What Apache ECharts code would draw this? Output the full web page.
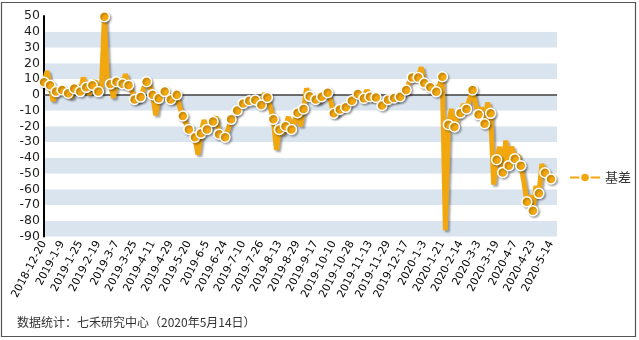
<!DOCTYPE html>
<html><head><meta charset="utf-8">
<script src="https://cdn.jsdelivr.net/npm/echarts@6/dist/echarts.min.js"></script>
<style>html,body{margin:0;padding:0;background:#fff}#c{width:639px;height:340px}</style>
</head><body><div id="c"></div>
<script>
const tickLabels = ['2018-12-20','2019-1-9','2019-1-25','2019-2-19','2019-3-7','2019-3-25','2019-4-11','2019-4-29','2019-5-20','2019-6-5','2019-6-24','2019-7-10','2019-7-26','2019-8-13','2019-8-29','2019-9-17','2019-10-10','2019-10-28','2019-11-13','2019-11-29','2019-12-17','2020-1-3','2020-1-21','2020-2-14','2020-3-3','2020-3-19','2020-4-7','2020-4-23','2020-5-14'];
const seriesName = '基差';
const basis = [
 8,15,6,-4,2,4,3,0,1,-2,4,5,2,11,4.7,0,6,9,2,3,
 49.5,8,6.8,-2,8.3,10,7,13,6,3,-3,-4,-1.5,4,8.3,6,0,-13,-2.3,0,
 2,1,-3,-4,0,-8,-13.5,-18,-22,-25,-27,-38,-24.5,-16,-22,-20,-17,-14,-25,-27,
 -27,-22,-15.6,-13,-10,-7,-5.5,-3,-3.8,-2,-3.4,-4,-6.5,1,-1.7,-8,-15.6,-35,-22,-25,
 -20,-14,-22,-17,-11.4,-20,-9,4,-1,-2,-3,-5,-1.3,2,1.3,-4,-11.8,-13,-9.3,-7,
 -8,-6,-3.8,-1,0.5,-1,-2.3,3,-1.3,-3,-1.7,-4,-6.8,-5,-3.2,-1,-2,-3,-1.3,0,
 3,8,11,13,11,17.5,7.4,5,4.8,3,1.9,6,11.4,-86,-19,-9,-20.5,-15,-11.6,-6,
 -9,-3,3,-6,-12.6,-8,-18.4,-5,-11.8,-57,-41.2,-33,-49.3,-29,-45,-33,-40.7,-38,-45,-55,
 -68,-64,-73.6,-58,-62.6,-44,-49.5,-50,-53.5
];
const trailingBlank = 2;
const categories = basis.map((_, i) => 'p' + i);
for (let k = 0; k < trailingBlank; k++) categories.push('b' + k);

const chart = echarts.init(document.getElementById('c'), null, {renderer: 'canvas'});
const lineColor = '#F2A70F';
chart.setOption({
  animation: false,
  backgroundColor: '#fff',
  grid: {left: 44, right: 82, top: 16, bottom: 103.5, containLabel: false},
  legend: {
    data: [seriesName], left: 569, top: 171, padding: 0,
    itemWidth: 30, itemHeight: 12, itemGap: 8,
    textStyle: {fontSize: 13, color: '#333', fontFamily: 'Noto Sans CJK SC'}
  },
  xAxis: {
    type: 'category', data: categories, boundaryGap: false,
    axisLine: {show: false}, axisTick: {show: false}, splitLine: {show: false},
    axisLabel: {
      interval: 5, rotate: 62, margin: 5, fontSize: 10.8, color: '#000',
      fontFamily: 'DejaVu Sans',
      formatter: (v, idx) => (idx % 6 === 0 && tickLabels[idx / 6]) ? tickLabels[idx / 6] : ''
    }
  },
  yAxis: {
    type: 'value', min: -90, max: 50, interval: 10,
    axisLine: {show: true, lineStyle: {color: '#000', width: 2}},
    axisTick: {show: false},
    splitLine: {show: false},
    splitArea: {show: true, areaStyle: {color: ['#DAE4EF', '#FFFFFF']}},
    axisLabel: {fontSize: 12.5, color: '#222', margin: 4, fontFamily: 'DejaVu Sans'}
  },
  graphic: [
    {type: 'rect', shape: {x: 1.5, y: 2.5, width: 634, height: 334},
     style: {fill: 'none', stroke: '#555', lineWidth: 1.2}, silent: true, z: 100},
    {type: 'text', left: 17, top: 316,
     style: {text: '数据统计：七禾研究中心（2020年5月14日）', fontSize: 12, fill: '#333',
             fontFamily: 'Noto Sans CJK SC'}}
  ],
  series: [{
    name: seriesName, type: 'line', data: basis,
    showSymbol: true, showAllSymbol: true, symbol: 'circle',
    symbolSize: (val, p) => (p.dataIndex % 2 === 0 ? 10 : 0),
    lineStyle: {color: lineColor, width: 5, shadowColor: 'rgba(0,0,0,0.35)', shadowBlur: 2, shadowOffsetX: 2, shadowOffsetY: 2},
    itemStyle: {color: lineColor, borderColor: '#fff', borderWidth: 1.5, shadowColor: 'rgba(0,0,0,0.3)', shadowBlur: 2, shadowOffsetX: 1.5, shadowOffsetY: 1.5},
    emphasis: {disabled: true},
    markLine: {
      silent: true, symbol: 'none', label: {show: false},
      lineStyle: {color: '#404040', width: 1.5, type: 'solid'},
      data: [{yAxis: 0}], z: 1
    }
  }]
});
</script></body></html>
